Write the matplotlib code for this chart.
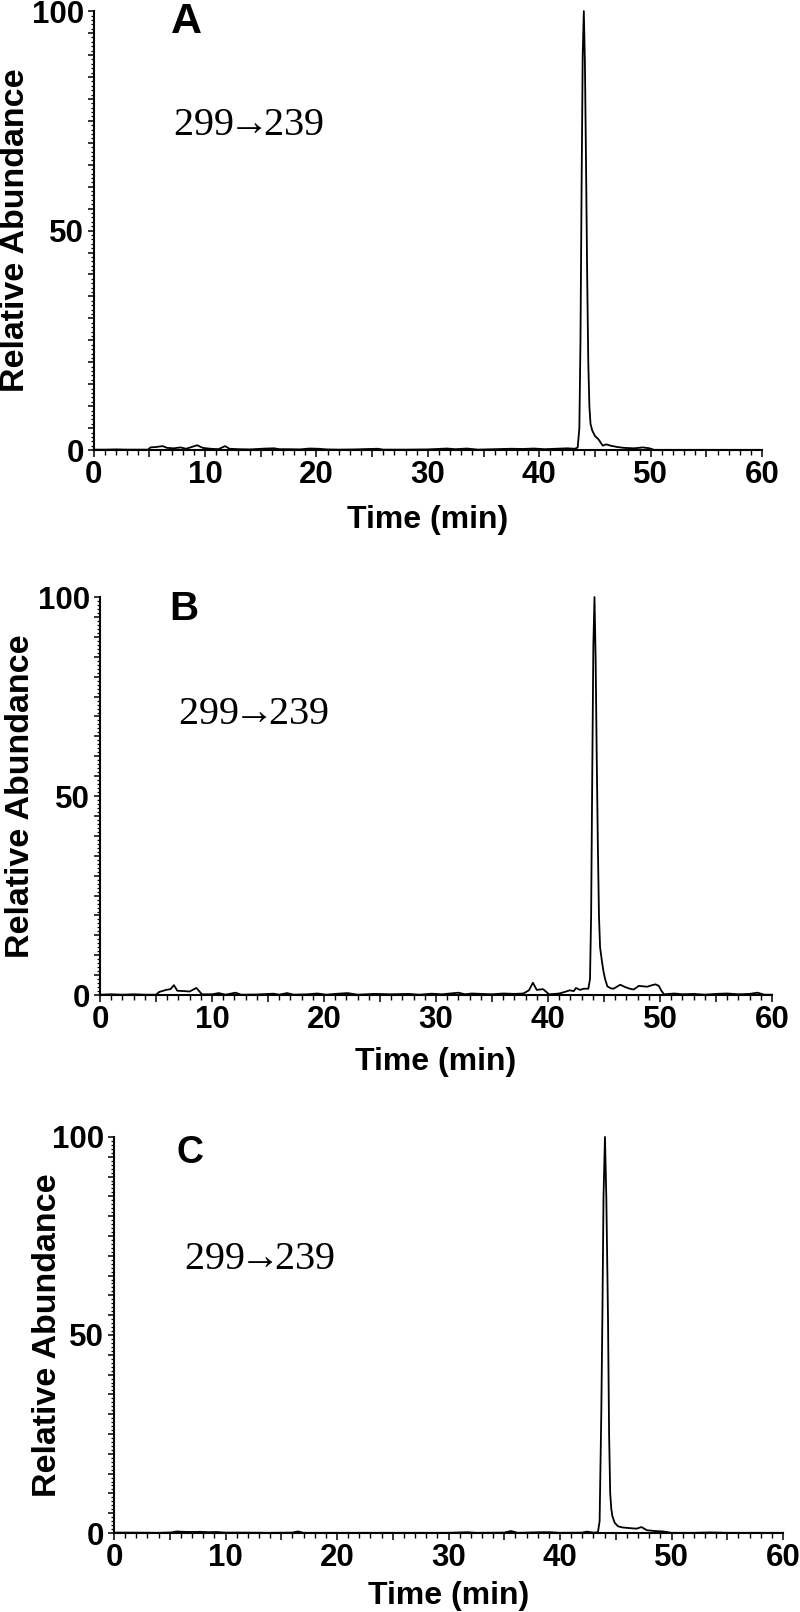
import matplotlib
matplotlib.use("Agg")
import matplotlib.pyplot as plt
from matplotlib.ticker import MultipleLocator, FuncFormatter

# Chromatogram traces (time in min, relative abundance in %)
time_a = [0, 1, 2, 3, 4, 4.9, 5.1, 5.6, 6.2, 6.6, 7.2, 7.8, 8.3, 8.8, 9.3, 9.8,
          10.5, 11.2, 11.8, 12.2, 13, 14, 15.5, 16.2, 16.7, 17.5, 18.5, 19.4,
          20.2, 20.9, 22, 23.5, 25.5, 26, 28, 30, 31.7, 32.5, 33.5, 34.5, 36,
          37.5, 38.5, 39.5, 40.5, 41.5, 42.5, 43.2, 43.45, 43.6, 43.7, 43.8,
          43.9, 44.0, 44.1, 44.2, 44.3, 44.4, 44.5, 44.6, 44.75, 45.0, 45.3,
          45.7, 46.0, 46.4, 47.0, 47.6, 48.5, 49.3, 49.9, 50.3, 52, 55, 60]
abund_a = [0.1, 0.1, 0.15, 0.1, 0.1, 0.1, 0.6, 0.7, 0.9, 0.5, 0.4, 0.6, 0.3, 0.7,
           1.1, 0.5, 0.3, 0.2, 0.9, 0.3, 0.2, 0.15, 0.35, 0.4, 0.2, 0.2, 0.15,
           0.35, 0.3, 0.15, 0.1, 0.15, 0.3, 0.1, 0.1, 0.15, 0.35, 0.2, 0.35, 0.1,
           0.2, 0.3, 0.25, 0.35, 0.2, 0.3, 0.4, 0.3, 0.6, 5, 25, 60, 90, 100, 88,
           65, 40, 20, 10, 6, 4.5, 3.2, 2.5, 1.0, 1.3, 1.0, 0.7, 0.5, 0.4, 0.6,
           0.4, 0.05, 0.05, 0.05, 0.05]

time_b = [0, 1, 2, 3, 4, 5, 5.3, 5.9, 6.3, 6.6, 6.9, 7.5, 8.0, 8.6, 9.1, 10, 10.6,
          11.2, 12.1, 12.6, 14, 15.5, 16, 16.7, 17.3, 18.5, 19.4, 20.2, 21, 22.1,
          23, 24.5, 26, 27.5, 28.5, 29.6, 30.5, 32, 32.6, 33.2, 34, 35, 36, 37,
          37.8, 38.3, 38.65, 39.0, 39.55, 40.1, 40.6, 41.0, 41.5, 41.95, 42.3,
          42.5, 42.85, 43.2, 43.6, 43.75, 43.85, 43.95, 44.05, 44.15, 44.25,
          44.35, 44.45, 44.55, 44.65, 44.8, 44.95, 45.1, 45.3, 45.6, 45.85,
          46.45, 46.9, 47.3, 47.65, 48.1, 48.5, 48.85, 49.3, 49.6, 49.9, 50.1,
          50.35, 51.3, 52, 53, 54, 55, 56, 57, 58, 58.7, 59.3, 60]
abund_b = [0.1, 0.2, 0.1, 0.2, 0.1, 0.1, 0.8, 1.3, 1.5, 2.5, 1.1, 1.0, 0.9, 1.8,
           0.2, 0.2, 0.5, 0.1, 0.6, 0.1, 0.15, 0.35, 0.1, 0.5, 0.1, 0.2, 0.4, 0.1,
           0.3, 0.5, 0.1, 0.3, 0.2, 0.3, 0.1, 0.35, 0.2, 0.6, 0.2, 0.4, 0.3, 0.2,
           0.4, 0.3, 0.4, 1.2, 3.1, 1.3, 1.5, 0.2, 0.3, 0.4, 0.8, 1.2, 1.0, 1.8,
           1.3, 1.6, 1.6, 4, 20, 55, 88, 100, 85, 60, 38, 20, 12, 8.8, 6, 4, 2.2,
           1.7, 1.6, 2.6, 2.0, 1.6, 1.4, 2.3, 2.2, 2.1, 2.5, 2.7, 2.3, 1.2, 0.2,
           0.4, 0.2, 0.3, 0.1, 0.3, 0.4, 0.2, 0.3, 0.6, 0.1, 0.1]

time_c = [0, 2, 4, 5.2, 5.6, 6.2, 7, 7.7, 8.5, 9.2, 10, 12, 14, 16, 16.5, 17, 20,
          25, 30, 31.7, 32.5, 35, 35.6, 36.2, 38.2, 39.1, 40, 42, 42.4, 43.0,
          43.4, 43.55, 43.7, 43.8, 43.9, 44.03, 44.15, 44.3, 44.4, 44.5, 44.6,
          44.7, 44.9, 45.2, 45.6, 46, 46.86, 47.3, 47.8, 48.5, 49.25, 50.0, 52,
          53.5, 55, 60]
abund_c = [0.1, 0.1, 0.05, 0.15, 0.4, 0.3, 0.25, 0.3, 0.2, 0.25, 0.1, 0.1, 0.05,
           0.1, 0.4, 0.05, 0.05, 0.05, 0.05, 0.2, 0.05, 0.1, 0.5, 0.05, 0.2, 0.2,
           0.05, 0.1, 0.35, 0.1, 0.2, 3, 30, 55, 85, 100, 85, 55, 25, 10, 6, 4.2,
           2.6, 1.7, 1.4, 1.3, 1.1, 1.5, 0.7, 0.5, 0.4, 0.05, 0.05, 0.15, 0.05,
           0.05]

panel_letters = ["A", "B", "C"]
# 299 -> 239 transition, arrow pulled in tight like the original
transition = r"$\mathrm{299}\!\!\rightarrow\!\!\mathrm{239}$"

SANS = ["Liberation Sans", "DejaVu Sans"]
SERIF = ["Liberation Serif", "DejaVu Serif"]

plt.rcParams["mathtext.fontset"] = "custom"
plt.rcParams["mathtext.rm"] = "Liberation Serif"

fig = plt.figure(figsize=(8, 16.12), dpi=100)

# axes rectangles and text placement per panel (figure fractions / data coords)
panels = [
    dict(rect=[0.117, 0.7208, 0.8356, 0.2723], t=time_a, y=abund_a,
         letter_xy=(6.9, 95.0), letter_size=31, label_xy=(7.1, 71.8),
         ylab_x=-0.117, xlab_y=-0.16),
    dict(rect=[0.125, 0.3827, 0.84, 0.2469], t=time_b, y=abund_b,
         letter_xy=(6.2, 94.2), letter_size=29, label_xy=(7.0, 68.0),
         ylab_x=-0.118, xlab_y=-0.168),
    dict(rect=[0.1425, 0.049, 0.8363, 0.2457], t=time_c, y=abund_c,
         letter_xy=(5.6, 93.5), letter_size=27, label_xy=(6.3, 66.7),
         ylab_x=-0.1, xlab_y=-0.16),
]

for letter, p in zip(panel_letters, panels):
    ax = fig.add_axes(p["rect"])
    ax.plot(p["t"], p["y"], color="black", lw=1.3, clip_on=False)

    ax.set_xlim(0, 60)
    ax.set_ylim(0, 100)
    ax.spines["top"].set_visible(False)
    ax.spines["right"].set_visible(False)
    ax.spines["left"].set_linewidth(1.5)
    ax.spines["bottom"].set_linewidth(1.5)

    # ticks: labelled every 10 min / 50 %, with dense minor ticks
    ax.xaxis.set_major_locator(MultipleLocator(5))
    ax.xaxis.set_minor_locator(MultipleLocator(1))
    ax.xaxis.set_major_formatter(FuncFormatter(lambda v, pos: f"{v:.0f}" if v % 10 == 0 else ""))
    ax.yaxis.set_major_locator(MultipleLocator(5))
    ax.yaxis.set_minor_locator(MultipleLocator(1))
    ax.yaxis.set_major_formatter(FuncFormatter(lambda v, pos: f"{v:.0f}" if v % 50 == 0 else ""))
    ax.tick_params(axis="x", which="major", direction="out", length=5, width=1.1, pad=2)
    ax.tick_params(axis="x", which="minor", direction="out", length=3.5, width=1.0)
    ax.tick_params(axis="y", which="major", direction="out", length=4, width=1.1, pad=3)
    ax.tick_params(axis="y", which="minor", direction="out", length=2.5, width=0.9)
    for lab in ax.get_xticklabels() + ax.get_yticklabels():
        lab.set_family(SANS)
        lab.set_fontweight("bold")
        lab.set_fontsize(22.5)

    ax.set_xlabel("Time (min)", family=SANS, fontweight="bold", fontsize=23, va="center")
    ax.xaxis.set_label_coords(0.5, p["xlab_y"])
    ax.set_ylabel("Relative Abundance", family=SANS, fontweight="bold", fontsize=24.5, va="center")
    ax.yaxis.set_label_coords(p["ylab_x"], 0.5)

    ax.text(p["letter_xy"][0], p["letter_xy"][1], letter, family=SANS, fontweight="bold",
            fontsize=p["letter_size"], va="baseline", ha="left")
    ax.text(p["label_xy"][0], p["label_xy"][1], transition, family=SERIF,
            fontsize=29, va="baseline", ha="left")

fig.savefig("out.png", dpi=100)
